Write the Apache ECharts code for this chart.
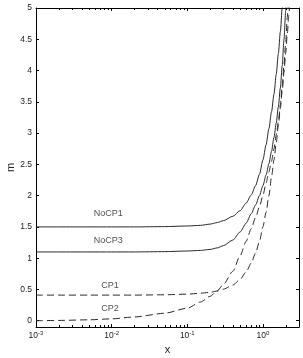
<!DOCTYPE html>
<html><head><meta charset="utf-8">
<script src="https://cdn.jsdelivr.net/npm/echarts@6/dist/echarts.min.js"></script>
<style>html,body{margin:0;padding:0;background:#fff}#c{width:303px;height:358px}</style>
</head><body><div id="c"></div>
<script>
// x values (linear), shared by all curves
const xValues = [0.001,0.002,0.005,0.01,0.02,0.05,0.1,0.15,0.2,0.25,0.3,0.4,0.5,0.6,0.7,0.8,0.9,1.0,1.1,1.2,1.3,1.4,1.5,1.6,1.7,1.8,1.9,2.0,2.1,2.2,2.3,2.4];
const noCP1 = [1.50,1.50,1.50,1.50,1.50,1.505,1.515,1.525,1.545,1.57,1.60,1.67,1.76,1.88,2.01,2.16,2.34,2.57,2.81,3.07,3.34,3.62,3.94,4.27,4.62,5.0,5.4,null,null,null,null,null];
const noCP3 = [1.10,1.10,1.10,1.10,1.10,1.105,1.115,1.125,1.14,1.165,1.20,1.29,1.42,1.56,1.71,1.85,2.00,2.16,2.33,2.51,2.71,2.93,3.16,3.42,3.72,4.08,4.5,4.95,5.45,null,null,null];
const cp1   = [0.41,0.41,0.41,0.41,0.41,0.415,0.425,0.44,0.455,0.475,0.505,0.57,0.66,0.78,0.92,1.08,1.27,1.50,1.73,2.0,2.3,2.57,2.84,3.12,3.4,3.67,3.97,4.28,4.58,4.88,5.17,5.45];
const cp2   = [0.0,0.005,0.015,0.03,0.06,0.12,0.2,0.3,0.39,0.48,0.58,0.79,1.04,1.27,1.47,1.65,1.82,2.0,2.2,2.38,2.55,2.75,2.97,3.18,3.45,3.75,4.1,4.45,4.85,5.25,null,null];

// curve annotations
const labelX = [0.009, 0.009, 0.0095, 0.0095];
const labelY = [1.72, 1.28, 0.56, 0.20];
const labelText = ['NoCP1', 'NoCP3', 'CP1', 'CP2'];

// axis settings
const xMin = 0.001, xMax = 3;
const yMin = -0.1, yMax = 5;
const minorTicks = [0.002,0.003,0.004,0.005,0.006,0.007,0.008,0.009,
                    0.02,0.03,0.04,0.05,0.06,0.07,0.08,0.09,
                    0.2,0.3,0.4,0.5,0.6,0.7,0.8,0.9, 2];

const FONT = 'Liberation Sans, Arial, Helvetica, sans-serif';
const pairs = ys => xValues.map((x, i) => [x, ys[i]]);
const lineColor = '#2a2a2a';

function logLabel(v) {
  const e = Math.log10(v);
  const r = Math.round(e);
  if (Math.abs(e - r) > 1e-6) return '';
  return '{b|10}{s|' + r + '}';
}

const axisLineStyle = {show: true, onZero: false, lineStyle: {color: '#000', width: 1}};
const tickStyle = {show: true, inside: true, length: 3, lineStyle: {color: '#000', width: 1}};
const curve = (name, ys, dashed) => ({
  name, type: 'line', data: pairs(ys), showSymbol: false, clip: true,
  smooth: 0.25, smoothMonotone: 'x',
  lineStyle: {color: lineColor, width: 1, type: dashed ? [7, 4] : 'solid'}
});

const chart = echarts.init(document.getElementById('c'), null, {renderer: 'canvas'});
chart.setOption({
  animation: false,
  backgroundColor: '#fff',
  grid: {left: 36, right: 4, top: 8, bottom: 31, containLabel: false, outerBoundsMode: 'none'},
  xAxis: [
    {type: 'log', logBase: 10, min: xMin, max: xMax, position: 'bottom',
     axisLine: axisLineStyle, axisTick: tickStyle, splitLine: {show: false},
     axisLabel: {formatter: logLabel, margin: 3, color: '#222', fontFamily: FONT,
       rich: {b: {fontSize: 8.5, lineHeight: 12, fontFamily: FONT, color: '#222'},
              s: {fontSize: 6, lineHeight: 5, verticalAlign: 'top', fontFamily: FONT, color: '#222'}}},
     name: 'x', nameLocation: 'middle', nameGap: 17, nameMoveOverlap: false,
     nameTextStyle: {fontSize: 11, fontFamily: FONT, color: '#222'}},
    {type: 'log', logBase: 10, min: xMin, max: xMax, position: 'top',
     axisLine: axisLineStyle, axisTick: tickStyle, splitLine: {show: false},
     axisLabel: {show: false}}
  ],
  yAxis: [
    {type: 'value', min: yMin, max: yMax, splitNumber: 10, position: 'left',
     axisLine: axisLineStyle, axisTick: tickStyle, splitLine: {show: false},
     axisLabel: {margin: 4, fontSize: 8.5, fontFamily: FONT, color: '#222',
       formatter: v => (v < -0.01 ? '' : String(v))},
     name: 'm', nameLocation: 'middle', nameRotate: 90, nameGap: 20, nameMoveOverlap: false,
     nameTextStyle: {fontSize: 11, fontFamily: FONT, color: '#222'}},
    {type: 'value', min: yMin, max: yMax, splitNumber: 10, position: 'right',
     axisLine: axisLineStyle, axisTick: tickStyle, splitLine: {show: false},
     axisLabel: {show: false}}
  ],
  series: [
    curve('NoCP1', noCP1, false),
    curve('NoCP3', noCP3, false),
    curve('CP1', cp1, true),
    curve('CP2', cp2, true),
    {name: 'labels', type: 'scatter', symbolSize: 0, silent: true,
     data: labelText.map((t, i) => ({value: [labelX[i], labelY[i]], name: t})),
     label: {show: true, position: 'inside', formatter: p => p.name,
       fontSize: 9, fontFamily: FONT, color: '#222'}},
    {name: 'minorTicks', type: 'custom', silent: true, z: 5,
     data: minorTicks.map(v => [v, 0]),
     renderItem: (params, api) => {
       const px = Math.round(api.coord([api.value(0), 0])[0]) + 0.5;
       const cs = params.coordSys;
       return {type: 'group', children: [
         {type: 'line', shape: {x1: px, y1: cs.y + cs.height, x2: px, y2: cs.y + cs.height - 2},
          style: {stroke: '#000', lineWidth: 1}},
         {type: 'line', shape: {x1: px, y1: cs.y, x2: px, y2: cs.y + 2},
          style: {stroke: '#000', lineWidth: 1}}
       ]};
     }}
  ]
});
</script>
</body></html>
